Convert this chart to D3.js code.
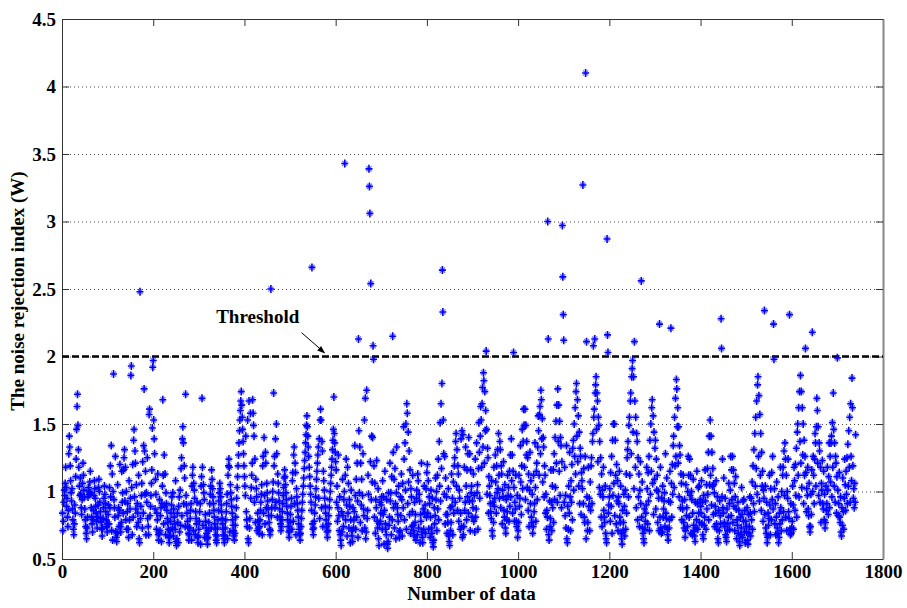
<!DOCTYPE html>
<html>
<head>
<meta charset="utf-8">
<script src="https://cdn.jsdelivr.net/npm/d3@7"></script>
<style>
  body { margin: 0; background: #fff; }
  text { font-family: "Liberation Serif", "Times New Roman", serif; font-weight: bold; }
</style>
</head>
<body>
<script>
// values, in hundredths of W, sample n = position + 1
const noiseHundredths = [
// 1-100
84,71,78,92,101,97,106,118,103,89,95,81,74,86,128,141,133,119,108,99,
93,102,87,79,72,68,76,90,84,111,124,146,163,172,149,131,118,104,97,110,
98,88,83,94,106,121,112,101,96,87,79,74,69,65,73,81,96,103,100,98,
107,115,99,88,81,76,70,79,86,97,108,102,95,89,84,78,73,81,90,103,
109,100,92,85,80,77,72,67,73,80,88,95,104,98,91,85,79,74,70,76,
// 101-200
83,90,76,103,88,119,96,134,71,113,64,100,187,94,88,81,126,70,66,63,
69,105,82,88,74,86,120,74,70,77,115,92,99,84,116,125,131,93,118,79,
100,72,85,91,72,66,108,79,87,95,186,193,103,68,120,81,138,146,96,130,
121,87,105,74,91,84,77,112,65,62,248,80,89,97,106,73,122,84,134,176,
130,98,115,68,99,92,125,80,74,68,157,161,82,89,97,106,116,147,192,197,
// 201-300
153,139,128,87,109,98,72,84,79,113,68,64,69,94,71,82,88,63,91,104,
168,112,76,127,89,113,68,99,91,86,80,77,72,66,62,67,71,78,84,90,
96,73,99,67,87,81,76,72,108,63,60,65,84,77,62,89,96,70,101,75,
117,125,82,139,148,136,91,119,110,74,172,97,90,84,78,74,69,64,68,73,
80,86,91,64,104,112,118,71,106,101,95,68,85,80,76,92,66,62,67,72,
// 301-400
78,85,91,61,104,111,169,118,75,105,99,94,66,83,78,73,69,65,61,66,
71,77,84,91,98,104,73,116,109,102,96,91,86,81,76,72,68,64,62,67,
73,79,86,93,99,106,102,96,90,85,80,76,72,68,65,62,67,73,79,85,
91,98,65,112,119,124,118,70,105,99,94,89,84,79,75,71,67,64,69,75,
81,88,95,103,111,119,127,136,145,153,160,167,174,164,155,146,137,128,119,111,
// 401-500
104,97,141,85,79,74,153,65,62,167,73,80,158,95,103,112,121,168,158,149,
141,92,124,77,109,102,96,71,84,78,73,69,74,79,86,92,98,105,68,119,
126,84,140,97,76,129,121,88,106,99,93,87,82,77,72,68,71,250,82,88,
94,100,107,173,119,126,88,139,92,150,128,81,113,106,99,93,87,81,76,71,
74,79,85,91,97,103,110,116,111,105,99,94,89,84,79,74,70,66,71,77,
// 501-600
83,89,95,72,108,114,78,127,133,91,121,114,68,102,96,91,86,81,76,72,
68,64,69,74,80,86,92,98,104,110,117,123,129,136,142,149,156,148,141,133,
126,118,111,104,98,92,86,266,76,72,68,73,78,84,90,96,102,109,115,121,
127,133,95,139,80,153,161,153,88,137,130,74,115,108,101,95,89,84,79,74,
70,66,71,76,82,88,94,100,106,112,118,124,131,138,146,170,143,136,129,122,
// 601-700
116,92,104,78,88,127,82,71,96,68,64,60,85,70,109,82,74,94,100,343,
112,79,124,90,67,118,84,106,73,94,89,62,79,101,71,67,63,88,73,79,
85,134,97,72,109,81,121,93,66,213,145,99,133,77,121,90,109,71,97,128,
87,82,153,73,169,65,70,175,80,86,112,98,339,326,306,122,254,94,141,107,
140,208,198,119,81,106,69,94,88,123,78,73,102,65,60,76,92,78,84,90,
// 701-800
96,72,108,83,96,61,86,115,76,72,68,94,61,58,63,99,75,81,121,93,
99,68,111,79,215,129,88,109,73,117,91,65,99,133,88,83,78,104,70,66,
71,96,82,113,94,67,106,88,148,124,79,136,101,150,72,165,158,91,144,107,
130,83,116,69,102,96,74,85,112,75,71,67,92,77,83,64,95,101,68,113,
108,73,98,93,62,83,78,121,70,66,62,87,72,104,84,90,69,102,81,114,
// 801-900
120,84,108,72,96,91,66,81,101,73,69,95,62,59,64,88,76,82,110,94,
100,71,112,87,124,79,137,104,151,93,165,117,180,264,233,153,128,98,126,76,
110,83,96,69,83,77,102,67,63,60,88,71,77,113,89,95,68,107,84,119,
125,92,137,143,104,131,86,119,113,78,101,95,72,84,139,74,145,66,142,68,
74,118,86,92,133,104,79,116,96,128,84,140,93,128,71,116,99,104,81,93,
// 901-1000
88,113,78,97,70,124,81,87,136,99,105,72,117,151,129,95,141,163,153,118,
165,177,133,188,182,121,174,145,160,204,146,98,132,125,84,111,104,97,91,85,
80,108,71,67,92,77,118,89,95,127,107,84,119,99,131,102,143,112,95,137,
131,88,119,113,76,101,96,122,86,81,105,73,69,94,79,85,112,97,103,78,
115,89,127,96,139,108,127,84,115,203,103,78,92,87,112,78,74,97,66,71,
// 1001-1100
77,112,89,95,134,107,83,119,146,102,137,161,149,118,161,94,149,127,137,103,
125,86,113,74,101,129,91,108,81,77,98,69,74,112,85,91,136,103,78,115,
121,94,133,156,145,112,157,163,128,175,168,139,154,107,140,133,96,119,112,84,
98,72,86,81,300,213,68,64,93,74,80,116,92,71,104,88,116,77,128,94,
140,103,152,121,164,92,176,137,164,115,152,97,140,134,88,122,297,259,231,212,
// 1101-1200
92,118,82,97,73,134,65,62,89,72,104,84,129,96,71,108,92,120,79,132,
138,101,150,126,162,113,174,180,141,168,122,156,104,144,91,132,126,83,114,108,
102,327,91,117,81,77,126,410,65,211,96,71,77,118,89,95,71,107,86,119,
125,91,137,143,208,155,161,213,173,179,185,146,173,167,122,155,149,103,137,98,
125,81,113,74,101,96,118,86,81,77,104,69,65,62,287,216,203,84,90,96,
// 1201-1300
102,78,114,89,126,69,138,97,150,106,150,82,138,112,76,120,93,108,71,96,
91,115,81,77,104,69,65,61,86,71,77,98,89,67,101,72,113,84,125,131,
137,96,149,155,112,167,173,128,185,191,197,144,185,102,211,167,118,155,88,143,
137,79,125,96,113,74,101,122,91,256,81,107,73,69,65,62,87,72,78,84,
90,118,102,76,114,93,126,71,138,98,150,115,162,168,106,156,83,144,109,132,
// 1301-1400
138,87,124,101,112,77,100,95,71,224,81,118,73,69,95,70,104,81,87,93,
99,74,128,84,80,110,72,68,64,93,73,79,115,92,221,106,81,120,98,134,
141,103,155,119,169,126,183,176,148,162,121,148,96,134,127,88,113,106,79,93,
87,112,77,73,94,66,71,105,82,88,74,100,126,112,81,124,97,112,69,100,
94,68,84,109,75,71,67,63,92,73,79,115,91,72,103,84,104,77,94,89,
// 1401-1500
84,108,76,92,68,65,97,75,81,116,93,72,105,87,117,98,129,79,141,105,
153,112,141,90,129,104,117,83,105,99,74,89,84,108,76,72,96,65,62,86,
71,93,82,76,228,206,96,124,88,84,110,77,74,95,68,66,63,87,71,76,
81,106,91,72,101,126,82,116,94,126,77,116,89,106,71,96,111,87,65,79,
75,92,69,86,63,60,81,68,73,103,83,66,93,78,94,70,86,62,78,74,
// 1501-1600
70,88,64,61,83,69,74,96,84,67,95,79,107,72,119,91,131,85,143,104,
155,117,167,98,179,185,126,171,93,157,112,143,86,129,104,115,78,101,95,234,
83,104,73,69,92,62,66,84,75,80,112,90,68,102,79,114,94,126,87,224,
198,102,76,91,68,81,107,73,69,96,62,66,84,76,118,88,71,100,79,112,
118,85,130,97,136,124,81,112,71,100,95,124,85,80,231,72,68,91,69,73,
// 1601-1700
78,104,90,72,118,108,86,120,97,132,81,144,150,112,162,96,174,137,186,121,
174,103,162,127,150,91,138,112,126,206,114,85,102,97,118,87,82,106,74,70,
74,98,83,116,218,100,126,112,91,124,143,136,104,148,169,160,121,148,97,136,
130,92,118,77,106,101,123,91,87,115,79,98,73,77,104,86,91,118,101,83,
111,136,88,126,107,136,141,96,151,118,173,146,104,136,92,126,121,84,111,199,
// 1701-1740
101,82,91,114,81,77,96,70,67,88,75,110,85,72,95,124,105,86,115,98,
125,91,135,104,145,118,155,92,165,126,108,184,162,119,95,102,88,106,92,142
];

const xTicks = [0, 200, 400, 600, 800, 1000, 1200, 1400, 1600, 1800],
    yTicks = [0.5, 1, 1.5, 2, 2.5, 3, 3.5, 4, 4.5],
    gridTicks = [1, 1.5, 2, 2.5, 3, 3.5, 4],
    threshold = 2,
    xTitle = "Number of data",
    yTitle = "The noise rejection index (W)",
    noteText = "Threshold";

const margin = {left: 62, right: 24, top: 19, bottom: 49},
    width = 907 - margin.left - margin.right,
    height = 608 - margin.top - margin.bottom;

const rows = noiseHundredths.map((v, i) => ({n: i + 1, w: v / 100}));

drawChart(rows);

function drawChart(rows) {
    const x = d3.scaleLinear().domain([0, 1800]).range([0, width]),
        y = d3.scaleLinear().domain([0.5, 4.5]).range([height, 0]);

    const svg = d3.select("body").append("svg")
        .attr("width", 907).attr("height", 608);
    svg.append("rect").attr("width", 907).attr("height", 608).attr("fill", "#fff");

    const g = svg.append("g")
        .attr("transform", "translate(" + margin.left + "," + margin.top + ")");

    // dotted horizontal grid
    g.append("g").selectAll("line")
        .data(gridTicks)
        .join("line")
        .attr("x1", 0).attr("x2", width)
        .attr("y1", d => y(d) + 0.5).attr("y2", d => y(d) + 0.5)
        .attr("stroke", "#444")
        .attr("stroke-dasharray", "1,3");

    // axes with inward ticks on all four sides
    const fontSize = 19;
    g.append("g").attr("class", "axis x")
        .attr("transform", "translate(0," + height + ")")
        .call(d3.axisBottom(x).tickValues(xTicks).tickSizeInner(-7).tickSizeOuter(0).tickPadding(6)
            .tickFormat(d3.format("d")));
    g.append("g").attr("class", "axis x2")
        .call(d3.axisTop(x).tickValues(xTicks).tickSizeInner(-7).tickSizeOuter(0).tickFormat(""));
    g.append("g").attr("class", "axis y")
        .call(d3.axisLeft(y).tickValues(yTicks).tickSizeInner(-7).tickSizeOuter(0).tickPadding(6)
            .tickFormat(d3.format("")));
    g.append("g").attr("class", "axis y2")
        .attr("transform", "translate(" + width + ",0)")
        .call(d3.axisRight(y).tickValues(yTicks).tickSizeInner(-7).tickSizeOuter(0).tickFormat(""));

    g.selectAll(".axis path").attr("stroke", "#333");
    g.selectAll(".axis line").attr("stroke", "#333");
    g.selectAll(".axis text")
        .attr("fill", "#000")
        .style("font-size", fontSize + "px")
        .style("font-family", "'Liberation Serif', serif")
        .style("font-weight", "bold");
    g.select(".axis.y2 path").attr("stroke", "#888").attr("stroke-width", 2);

    // threshold line
    g.append("line")
        .attr("x1", x(0)).attr("x2", x(1800))
        .attr("y1", y(threshold)).attr("y2", y(threshold))
        .attr("stroke", "#000")
        .attr("stroke-width", 2.5)
        .attr("stroke-dasharray", "7,3");

    // star markers
    const star = "M-3.5,0H3.5M0,-4V4";
    const diag = "M-2.6,-2.6L2.6,2.6M-2.6,2.6L2.6,-2.6";
    const pts = g.append("g").selectAll("g")
        .data(rows)
        .join("g")
        .attr("transform", d => "translate(" + x(d.n) + "," + y(d.w) + ")");
    pts.append("path").attr("d", diag).attr("stroke", "#0000ff").attr("stroke-opacity", 0.55).attr("stroke-width", 1.3);
    pts.append("path").attr("d", star).attr("stroke", "#0000ff").attr("stroke-width", 1.6);

    // annotation
    g.append("text")
        .attr("x", x(338)).attr("y", y(2.248))
        .style("font-size", "19px")
        .text(noteText);
    g.append("line")
        .attr("x1", x(525)).attr("y1", y(2.177))
        .attr("x2", x(575)).attr("y2", y(2.03))
        .attr("stroke", "#000").attr("stroke-width", 1);
    const ax = x(577), ay = y(2.022),
        ang = Math.atan2(y(2.03) - y(2.177), x(575) - x(525));
    const head = [[0, 0], [-8, -3], [-8, 3]].map(([px, py]) => [
        ax + px * Math.cos(ang) - py * Math.sin(ang),
        ay + px * Math.sin(ang) + py * Math.cos(ang)]);
    g.append("path")
        .attr("d", "M" + head.join("L") + "Z")
        .attr("fill", "#000");

    // axis titles
    svg.append("text")
        .attr("x", margin.left + width / 2 - 1).attr("y", 600)
        .attr("text-anchor", "middle")
        .style("font-size", "19px")
        .text(xTitle);
    svg.append("text")
        .attr("transform", "translate(24," + (margin.top + height / 2 + 2) + ") rotate(-90)")
        .attr("text-anchor", "middle")
        .style("font-size", "19px")
        .text(yTitle);
}
</script>
</body>
</html>
